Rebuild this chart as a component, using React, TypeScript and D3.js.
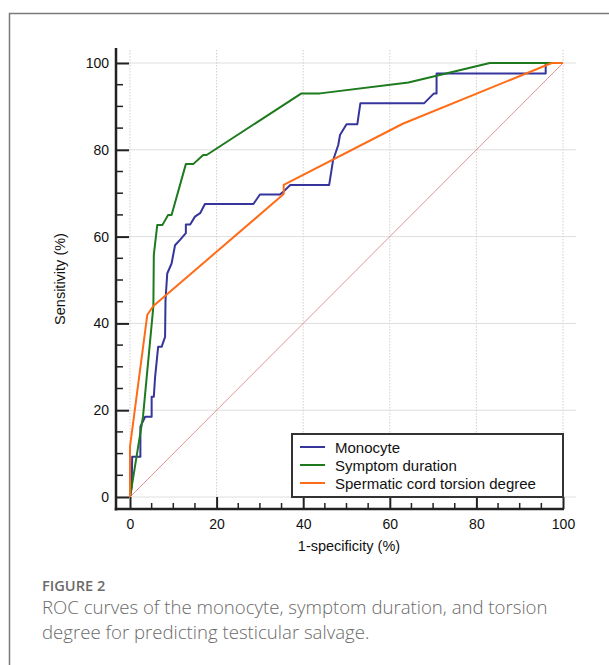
import React, { useEffect, useRef } from 'react';
import { select, scaleLinear, axisLeft, axisBottom, line, range } from 'd3';

// ROC points: [1-specificity, sensitivity]
const monocyte: [number, number][] = [
  [0, 0], [0.4, 2.4], [0.5, 9.3], [2.4, 9.3], [2.4, 16.2], [3.5, 18.5], [5.0, 18.5],
  [5.0, 23.1], [5.5, 23.1], [5.8, 27.7], [6.5, 34.6], [7.3, 34.6], [8.1, 36.9],
  [8.2, 45.4], [8.6, 51.5], [9.6, 53.8], [10.4, 58], [11.5, 59.2], [12.9, 60.8],
  [12.9, 62.8], [13.9, 62.8], [15.0, 64.6], [16.2, 65.4], [17.3, 67.5], [28.5, 67.5],
  [30, 69.7], [34.6, 69.7], [35.4, 70.3], [37, 71.9], [46, 71.9], [46.9, 77.6],
  [48.1, 81.1], [48.5, 83.4], [50, 85.9], [52.5, 85.9], [53.2, 90.7], [67.9, 90.7],
  [70.2, 93], [70.8, 93], [70.8, 97.6], [96, 97.6], [96, 100], [100, 100],
];
const symptomDuration: [number, number][] = [
  [0, 0], [0.4, 2.4], [3, 18.5], [5.4, 44], [5.5, 55.8], [6.3, 62.7], [7.5, 62.7],
  [8.8, 65], [9.6, 65], [12.9, 76.7], [14.6, 76.7], [16.9, 78.8], [17.7, 78.8],
  [39.6, 93], [43.9, 93], [64.3, 95.5], [83.1, 100], [100, 100],
];
const torsionDegree: [number, number][] = [
  [0, 0], [0, 11.6], [4, 42], [5.4, 44], [35.5, 69.8], [35.5, 71.9], [63, 86],
  [97.4, 100], [100, 100],
];

const seriesNames = ['Monocyte', 'Symptom duration', 'Spermatic cord torsion degree'];
const seriesColors = ['#35359c', '#1d7a1d', '#ff6c17'];
const majorTicks = [0, 20, 40, 60, 80, 100];
const captionTitle = 'FIGURE 2';
const captionLines = [
  'ROC curves of the monocyte, symptom duration, and torsion',
  'degree for predicting testicular salvage.',
];

const W = 609;
const H = 665;

const RocChart = () => {
  const ref = useRef<SVGSVGElement>(null);

  useEffect(() => {
    const svg = select(ref.current);
    svg.selectAll('*').remove();

    const x = scaleLinear().domain([0, 100]).range([130, 563]);
    const y = scaleLinear().domain([0, 100]).range([497, 63]);
    const axisX = 116;
    const axisY = 509;
    const font = 'Arial, "Liberation Sans", sans-serif';

    // figure frame (top + left rule)
    svg.append('path')
      .attr('d', `M9.5,${H} V13.5 H${W}`)
      .attr('fill', 'none')
      .attr('stroke', '#7a7a7a')
      .attr('stroke-width', 1.5);

    // grid
    const grid = svg.append('g');
    grid.selectAll('line.h')
      .data(majorTicks)
      .enter()
      .append('line')
      .attr('x1', axisX).attr('x2', 576)
      .attr('y1', d => y(d)).attr('y2', d => y(d))
      .attr('stroke', '#dedede')
      .attr('stroke-width', 1);
    grid.selectAll('line.v')
      .data(majorTicks)
      .enter()
      .append('line')
      .attr('x1', d => x(d)).attr('x2', d => x(d))
      .attr('y1', 50).attr('y2', y(0))
      .attr('stroke', '#cfcfcf')
      .attr('stroke-dasharray', '1.5,1.5')
      .attr('stroke-width', 1);

    // diagonal reference
    svg.append('line')
      .attr('x1', x(0)).attr('y1', y(0))
      .attr('x2', x(100)).attr('y2', y(100))
      .attr('stroke', '#e09494')
      .attr('stroke-width', 1);

    // y axis
    const yAxis = svg.append('g')
      .attr('transform', `translate(${axisX},0)`)
      .call(axisLeft(y).tickValues(majorTicks).tickSizeInner(-13).tickSizeOuter(0).tickPadding(7));
    yAxis.select('.domain').remove();
    yAxis.attr('font-size', null).attr('font-family', null);
    yAxis.selectAll('.tick line').attr('stroke', '#222').attr('stroke-width', 2);
    yAxis.selectAll('.tick text')
      .attr('font-family', font).attr('font-size', 14).attr('fill', '#111');
    svg.append('g')
      .selectAll('line')
      .data(range(5, 100, 5).filter(d => d % 20 !== 0))
      .enter()
      .append('line')
      .attr('x1', axisX).attr('x2', axisX + 7)
      .attr('y1', d => y(d)).attr('y2', d => y(d))
      .attr('stroke', '#222').attr('stroke-width', 1.5);
    svg.append('line')
      .attr('x1', axisX).attr('x2', axisX)
      .attr('y1', 48).attr('y2', axisY + 1.5)
      .attr('stroke', '#222').attr('stroke-width', 2.5);

    // x axis
    const xAxis = svg.append('g')
      .attr('transform', `translate(0,${axisY})`)
      .call(axisBottom(x).tickValues(majorTicks).tickSizeInner(-12).tickSizeOuter(0).tickPadding(10));
    xAxis.select('.domain').remove();
    xAxis.attr('font-size', null).attr('font-family', null);
    xAxis.selectAll('.tick line').attr('stroke', '#222').attr('stroke-width', 2);
    xAxis.selectAll('.tick text')
      .attr('font-family', font).attr('font-size', 14).attr('fill', '#111');
    svg.append('g')
      .selectAll('line')
      .data(range(5, 100, 5).filter(d => d % 20 !== 0))
      .enter()
      .append('line')
      .attr('x1', d => x(d)).attr('x2', d => x(d))
      .attr('y1', axisY).attr('y2', axisY - 6)
      .attr('stroke', '#222').attr('stroke-width', 1.5);
    svg.append('line')
      .attr('x1', axisX - 1.25).attr('x2', x(100) + 1)
      .attr('y1', axisY).attr('y2', axisY)
      .attr('stroke', '#222').attr('stroke-width', 2.5);

    // axis titles
    svg.append('text')
      .attr('x', 349).attr('y', 551)
      .attr('text-anchor', 'middle')
      .attr('font-family', font).attr('font-size', 14.5).attr('fill', '#111')
      .text('1-specificity (%)');
    svg.append('text')
      .attr('transform', 'translate(65,279) rotate(-90)')
      .attr('text-anchor', 'middle')
      .attr('font-family', font).attr('font-size', 14.5).attr('fill', '#111')
      .text('Sensitivity (%)');

    // curves
    const path = line<[number, number]>().x(d => x(d[0])).y(d => y(d[1]));
    [monocyte, symptomDuration, torsionDegree].forEach((s, i) => {
      svg.append('path')
        .attr('d', path(s))
        .attr('fill', 'none')
        .attr('stroke', seriesColors[i])
        .attr('stroke-width', 2)
        .attr('stroke-linejoin', 'round');
    });

    // legend
    const lg = svg.append('g');
    lg.append('rect')
      .attr('x', 292).attr('y', 434).attr('width', 271).attr('height', 63)
      .attr('fill', '#fff').attr('stroke', '#333').attr('stroke-width', 2);
    seriesNames.forEach((name, i) => {
      const cy = 447 + i * 18;
      lg.append('line')
        .attr('x1', 300).attr('x2', 325).attr('y1', cy).attr('y2', cy)
        .attr('stroke', seriesColors[i]).attr('stroke-width', 2);
      lg.append('text')
        .attr('x', 335).attr('y', cy + 5.5)
        .attr('font-family', font).attr('font-size', 15).attr('fill', '#111')
        .text(name);
    });

    // caption
    const capFont = '"Open Sans", "Noto Sans", sans-serif';
    svg.append('text')
      .attr('x', 42).attr('y', 591)
      .attr('font-family', capFont).attr('font-size', 14.6).attr('font-weight', 600)
      .attr('fill', '#6a6a6a')
      .text(captionTitle);
    captionLines.forEach((t, i) => {
      svg.append('text')
        .attr('x', 42).attr('y', 614 + i * 25)
        .attr('font-family', capFont).attr('font-size', 18.6).attr('font-weight', 300)
        .attr('fill', '#6a6a6a')
        .text(t);
    });
  }, []);

  return <svg ref={ref} width={W} height={H} style={{ position: 'absolute', left: 0, top: 0, background: '#fff' }} />;
};

export default function App() {
  return <RocChart />;
}
